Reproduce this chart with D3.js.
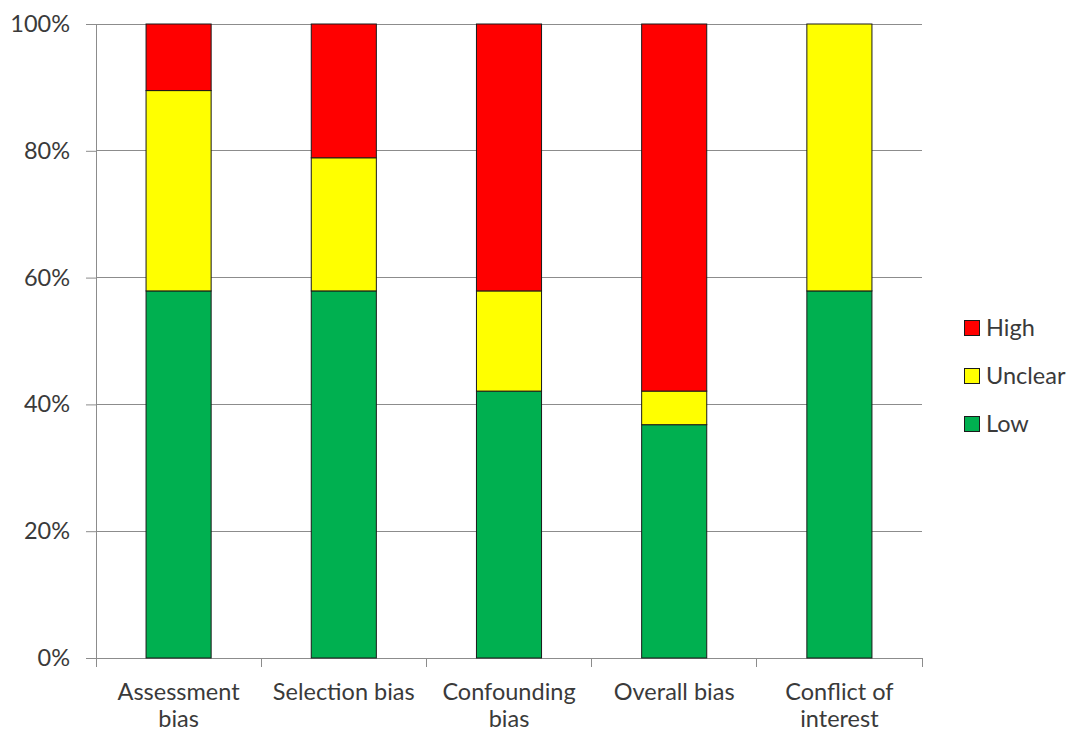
<!DOCTYPE html>
<html>
<head>
<meta charset="utf-8">
<script src="https://cdn.jsdelivr.net/npm/d3@7"></script>
<style>
  body { margin: 0; background: #fff; }
  svg text { font-family: Lato, "Open Sans", sans-serif; fill: #3a3a3a; }
</style>
</head>
<body>
<svg id="chart" width="1072" height="734"></svg>
<script>
// Risk-of-bias domains (19 studies), shares in percent
const categories = ["Assessment bias", "Selection bias", "Confounding bias", "Overall bias", "Conflict of interest"];
const categoryLines = [["Assessment", "bias"], ["Selection bias"], ["Confounding", "bias"], ["Overall bias"], ["Conflict of", "interest"]];
const lowValues     = [57.9, 57.9, 42.1, 36.8, 57.9];
const unclearValues = [31.6, 21.0, 15.8, 5.3, 42.1];
const highValues    = [10.5, 21.1, 42.1, 57.9, 0];
const seriesNames = ["Low", "Unclear", "High"];
const seriesColors = ["#00b050", "#ffff00", "#ff0000"];
const yTicks = [0, 20, 40, 60, 80, 100];

const svg = d3.select("#chart");
const margin = { left: 96, right: 150, top: 24, bottom: 76 };
const W = 1072, H = 734;
const fontSize = "23.5px";

const x = d3.scaleBand().domain(categories).range([margin.left, W - margin.right]).paddingInner(0.606).paddingOuter(0.303);
const y = d3.scaleLinear().domain([0, 100]).range([H - margin.bottom, margin.top]);

const rows = categories.map((c, i) => ({ cat: c, Low: lowValues[i], Unclear: unclearValues[i], High: highValues[i] }));
const stacked = d3.stack().keys(seriesNames)(rows);

// horizontal gridlines
svg.append("g").selectAll("line").data(yTicks.filter(t => t > 0)).join("line")
  .attr("x1", margin.left).attr("x2", W - margin.right)
  .attr("y1", d => y(d)).attr("y2", d => y(d))
  .attr("stroke", "#8c8c8c").attr("stroke-width", 1).attr("shape-rendering", "crispEdges");

// y axis
const yAxis = svg.append("g").attr("transform", `translate(${margin.left},0)`)
  .call(d3.axisLeft(y).tickValues(yTicks).tickFormat(d => d + "%").tickSize(10).tickPadding(16));
yAxis.select(".domain").attr("stroke", "#8c8c8c");
yAxis.selectAll(".tick line").attr("stroke", "#8c8c8c");
yAxis.selectAll("text").style("font-size", fontSize).attr("fill", "#3a3a3a");

// x axis baseline and category separators
const xg = svg.append("g");
xg.append("line").attr("x1", margin.left).attr("x2", W - margin.right)
  .attr("y1", y(0)).attr("y2", y(0)).attr("stroke", "#8c8c8c").attr("shape-rendering", "crispEdges");
const step = x.step();
const bounds = d3.range(categories.length + 1).map(i => margin.left + i * step);
xg.selectAll("line.sep").data(bounds).join("line").attr("class", "sep")
  .attr("x1", d => d).attr("x2", d => d).attr("y1", y(0)).attr("y2", y(0) + 9)
  .attr("stroke", "#8c8c8c").attr("shape-rendering", "crispEdges");

// category labels
const labels = xg.selectAll("text.cat").data(categories).join("text").attr("class", "cat")
  .attr("x", d => x(d) + x.bandwidth() / 2).attr("y", 700)
  .attr("text-anchor", "middle").style("font-size", fontSize);
labels.each(function(d, i) {
  const t = d3.select(this);
  categoryLines[i].forEach((line, j) => {
    t.append("tspan").attr("x", x(d) + x.bandwidth() / 2).attr("dy", j === 0 ? 0 : 26.5).text(line);
  });
});

// stacked bars
svg.append("g").selectAll("g").data(stacked).join("g")
  .attr("fill", (d, i) => seriesColors[i])
  .selectAll("rect").data(d => d.filter(p => p[1] - p[0] > 0)).join("rect")
  .attr("x", d => x(d.data.cat)).attr("width", x.bandwidth())
  .attr("y", d => y(d[1])).attr("height", d => y(d[0]) - y(d[1]))
  .attr("stroke", "#1a1a1a").attr("stroke-width", 1);

// legend (High on top)
const legendOrder = [2, 1, 0];
const lg = svg.append("g");
legendOrder.forEach((si, k) => {
  const cy = 328 + k * 48;
  lg.append("rect").attr("x", 964.5).attr("y", cy - 7.5).attr("width", 15).attr("height", 15)
    .attr("fill", seriesColors[si]).attr("stroke", "#1a1a1a");
  lg.append("text").attr("x", 986).attr("y", cy + 8).style("font-size", fontSize).text(seriesNames[si]);
});
</script>
</body>
</html>
